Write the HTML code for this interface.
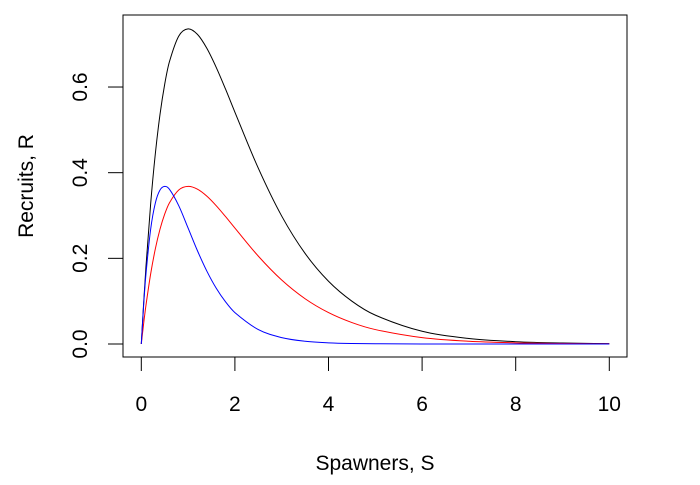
<!DOCTYPE html>
<html><head><meta charset="utf-8"><style>
body{margin:0;background:#fff;}
svg text{font-family:"Liberation Sans",Arial,sans-serif;font-size:21px;fill:#000;}
</style></head><body>
<svg id="chart" width="700" height="480" xmlns="http://www.w3.org/2000/svg">
<rect x="123" y="15" width="504" height="342" fill="none" stroke="#000" stroke-width="1"/>
<g id="axes"></g>
<g id="series"></g>
<text x="375" y="470" text-anchor="middle">Spawners, S</text>
<text transform="translate(33,186) rotate(-90)" text-anchor="middle">Recruits, R</text>
</svg>
<script>
const spawners=[0,0.05,0.1,0.2,0.3,0.4,0.5,0.6,0.8,1,1.2,1.4,1.6,1.8,2,2.5,3,3.5,4,4.5,5,6,7,8,9,10];
const recruitsBlack=[0,0.0951,0.1810,0.3275,0.4445,0.5363,0.6065,0.6586,0.7189,0.7358,0.7229,0.6905,0.6461,0.5951,0.5413,0.4104,0.2987,0.2114,0.1465,0.1000,0.0674,0.0297,0.0128,0.0054,0.0022,0.0009];
const recruitsRed=[0,0.0476,0.0905,0.1637,0.2222,0.2681,0.3033,0.3293,0.3595,0.3679,0.3614,0.3452,0.3230,0.2975,0.2707,0.2052,0.1494,0.1057,0.0733,0.0500,0.0337,0.0149,0.0064,0.0027,0.0011,0.0005];
const recruitsBlue=[0,0.0905,0.1637,0.2681,0.3293,0.3595,0.3679,0.3614,0.3230,0.2707,0.2177,0.1703,0.1304,0.0984,0.0733,0.0337,0.0149,0.0064,0.0027,0.0011,0.0005,0.0001,0,0,0,0];
const xTicks=[0,2,4,6,8,10];
const yTicks=[0,0.2,0.4,0.6];
const yTickLabels=["0.0","0.2","0.4","0.6"];

const NS="http://www.w3.org/2000/svg";
const xs=v=>141.3+v*46.8;
const ys=v=>344-v*428.3;
function mk(tag,attrs,parent){const e=document.createElementNS(NS,tag);for(const k in attrs)e.setAttribute(k,attrs[k]);parent.appendChild(e);return e;}
const axes=document.getElementById('axes');
mk('line',{x1:xs(0),x2:xs(10),y1:357,y2:357,stroke:'#000'},axes);
xTicks.forEach(t=>{
  const l=mk('line',{x1:xs(t),x2:xs(t),y1:357,y2:371,stroke:'#000'},axes);
  
  
  const tx=mk('text',{x:xs(t),y:411,'text-anchor':'middle'},axes);tx.textContent=t;
  
  
});
mk('line',{x1:123,x2:123,y1:ys(0),y2:ys(0.6),stroke:'#000'},axes);
yTicks.forEach((t,i)=>{
  const l=mk('line',{x1:108,x2:123,y1:ys(t),y2:ys(t),stroke:'#000'},axes);
  
  
  const tx=mk('text',{transform:`translate(87,${ys(t)}) rotate(-90)`,'text-anchor':'middle'},axes);tx.textContent=yTickLabels[i];
  
  
});
function path(vals){
  const p=spawners.map((s,i)=>[xs(s),ys(vals[i])]);
  let d=`M${p[0][0]},${p[0][1]}`;
  for(let i=0;i<p.length-1;i++){
    const p0=p[Math.max(i-1,0)],p1=p[i],p2=p[i+1],p3=p[Math.min(i+2,p.length-1)];
    const h=p2[0]-p1[0];
    const m1=(p2[1]-p0[1])/(p2[0]-p0[0]||1), m2=(p3[1]-p1[1])/(p3[0]-p1[0]||1);
    const c1=[p1[0]+h/3,p1[1]+m1*h/3];
    const c2=[p2[0]-h/3,p2[1]-m2*h/3];
    d+=`C${c1[0]},${c1[1]} ${c2[0]},${c2[1]} ${p2[0]},${p2[1]}`;
  }
  return d;
}
const g=document.getElementById('series');
const b=mk('path',{d:path(recruitsBlack),fill:'none',stroke:'#000','stroke-width':1},g);


const r=mk('path',{d:path(recruitsRed),fill:'none',stroke:'#f00','stroke-width':1},g);


const bl=mk('path',{d:path(recruitsBlue),fill:'none',stroke:'#00f','stroke-width':1},g);


</script>
</body></html>
